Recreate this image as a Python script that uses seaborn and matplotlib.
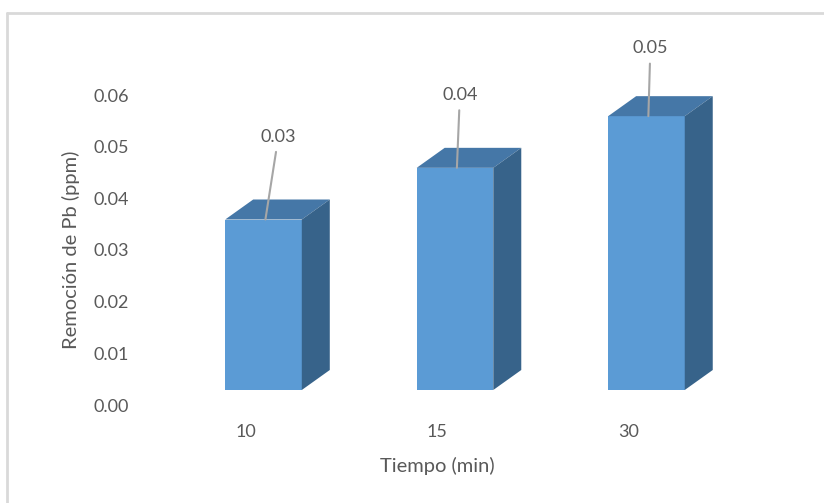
import matplotlib
matplotlib.use("Agg")
import matplotlib.pyplot as plt
import matplotlib.transforms as mtransforms
from matplotlib.lines import Line2D
from matplotlib.patches import Polygon
import pandas as pd
import seaborn as sns

# data
tiempo = ["10", "15", "30"]
remocion = [0.033, 0.043, 0.053]
etiquetas = ["0.03", "0.04", "0.05"]
y_ticks = [0.00, 0.01, 0.02, 0.03, 0.04, 0.05, 0.06]

FRONT = "#5B9BD5"
TOP = "#4577A7"
SIDE = "#37638A"
TEXT = "#595959"

sns.set_theme(style="white")
plt.rcParams["font.family"] = ["Lato", "DejaVu Sans"]

W, H = 824, 503
fig = plt.figure(figsize=(W / 100, H / 100), dpi=100)
ax = fig.add_axes([140 / W, 98 / H, 620 / W, 310 / H])

df = pd.DataFrame({"tiempo": tiempo, "remocion": remocion})

# 3D look: depth and floor lift, in pixels
depth_px = (28, 20)
lift_px = 15
px_x = 191.5   # pixels per category
px_y = 310 / 0.06  # pixels per unit y
lift = lift_px / px_y
ddx = depth_px[0] / px_x
ddy = depth_px[1] / px_y

sns.barplot(data=df, x="tiempo", y="remocion", color=FRONT, width=0.40,
            saturation=1, bottom=lift, ax=ax, zorder=3, linewidth=0)

ax.set_xlim(-0.645, 2.593)
ax.set_ylim(0, 0.06)

for bar in ax.patches[:]:
    x0 = bar.get_x()
    x1 = x0 + bar.get_width()
    y0 = bar.get_y()
    y1 = y0 + bar.get_height()
    top = Polygon([(x0, y1), (x1, y1), (x1 + ddx, y1 + ddy), (x0 + ddx, y1 + ddy)],
                  closed=True, facecolor=TOP, edgecolor="none", clip_on=False, zorder=3)
    side = Polygon([(x1, y0), (x1 + ddx, y0 + ddy), (x1 + ddx, y1 + ddy), (x1, y1)],
                   closed=True, facecolor=SIDE, edgecolor="none", clip_on=False, zorder=3)
    ax.add_patch(top)
    ax.add_patch(side)

# label placement (pixel offsets from the front top edge)
label_off = [(13, 83), (3, 73), (2, 68)]
for bar, lab, (ox, oy) in zip(ax.patches[:3], etiquetas, label_off):
    xc = bar.get_x() + bar.get_width() / 2
    yt = bar.get_y() + bar.get_height()
    ax.annotate(lab, xy=(xc + 0.01, yt), xytext=(ox * 0.72, oy * 0.72),
                textcoords="offset points", ha="center", va="center",
                fontsize=13, color=TEXT, zorder=5, annotation_clip=False,
                arrowprops=dict(arrowstyle="-", color="#A6A6A6", lw=1.5,
                                shrinkA=3, shrinkB=0))

ax.set_yticks(y_ticks)
ax.set_yticklabels([f"{v:.2f}" for v in y_ticks])
ax.tick_params(axis="both", length=0, labelsize=13, labelcolor=TEXT)
ax.tick_params(axis="y", pad=8)
ax.tick_params(axis="x", pad=14)
shift = mtransforms.ScaledTranslation(-18 / 100, 0, fig.dpi_scale_trans)
for t in ax.get_xticklabels():
    t.set_transform(t.get_transform() + shift)

ax.set_xlabel("Tiempo (min)", fontsize=14.5, color=TEXT)
ax.set_ylabel("Remoción de Pb (ppm)", fontsize=14.5, color=TEXT)
ax.xaxis.set_label_coords((437 - 140) / 620, -(457 - 405) / 310)
ax.yaxis.set_label_coords((80 - 140) / 620, (405 - 250) / 310)
sns.despine(ax=ax, left=True, bottom=True)
ax.grid(False)

# chart border (only top and left edges visible)
fig.add_artist(Line2D([7 / W, 1], [1 - 13 / H, 1 - 13 / H], color="#D9D9D9", lw=2))
fig.add_artist(Line2D([7 / W, 7 / W], [0, 1 - 13 / H], color="#D9D9D9", lw=2))

fig.savefig("out.png", dpi=100)
